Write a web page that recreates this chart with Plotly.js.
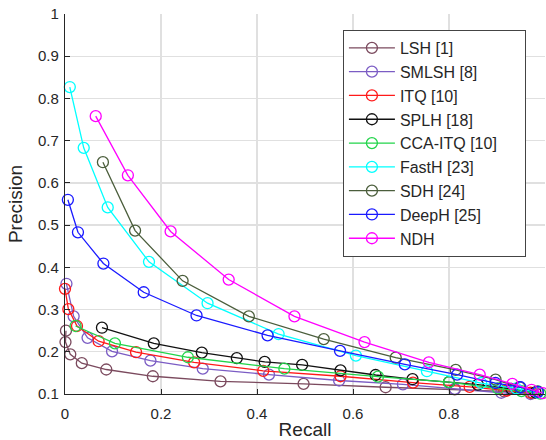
<!DOCTYPE html>
<html>
<head>
<meta charset="utf-8">
<script src="https://cdn.plot.ly/plotly-3.0.1.min.js"></script>
<style>
  html, body { margin: 0; padding: 0; background: #fff; }
  #chart { width: 546px; height: 440px; }
</style>
</head>
<body>
<div id="chart"></div>
<script>
// Precision-recall curves for each hashing method
const methodNames = ['LSH [1]', 'SMLSH [8]', 'ITQ [10]', 'SPLH [18]', 'CCA-ITQ [10]',
                     'FastH [23]', 'SDH [24]', 'DeepH [25]', 'NDH'];

const lshRecall    = [0.002, 0.001, 0.011, 0.035, 0.086, 0.183, 0.324, 0.497, 0.668, 0.812, 0.915, 0.975];
const lshPrecision = [0.250, 0.223, 0.194, 0.173, 0.158, 0.142, 0.130, 0.124, 0.116, 0.111, 0.106, 0.102];

const smlshRecall    = [0.003, 0.018, 0.047, 0.098, 0.178, 0.287, 0.425, 0.571, 0.704, 0.812, 0.909, 0.970];
const smlshPrecision = [0.361, 0.284, 0.233, 0.201, 0.179, 0.160, 0.146, 0.132, 0.123, 0.112, 0.103, 0.100];

const itqRecall    = [0.000, 0.007, 0.025, 0.070, 0.148, 0.269, 0.413, 0.574, 0.725, 0.843, 0.920, 0.970];
const itqPrecision = [0.349, 0.301, 0.261, 0.225, 0.199, 0.175, 0.155, 0.142, 0.127, 0.117, 0.108, 0.103];

const splhRecall    = [0.077, 0.185, 0.285, 0.358, 0.416, 0.494, 0.574, 0.647, 0.724, 0.800, 0.860, 0.930, 0.980];
const splhPrecision = [0.257, 0.220, 0.198, 0.185, 0.176, 0.169, 0.156, 0.145, 0.135, 0.128, 0.122, 0.112, 0.104];

const ccaRecall    = [0.022, 0.104, 0.256, 0.457, 0.652, 0.800, 0.902, 0.951, 0.990];
const ccaPrecision = [0.261, 0.220, 0.187, 0.160, 0.141, 0.128, 0.113, 0.107, 0.101];

const fasthRecall    = [0.010, 0.039, 0.089, 0.175, 0.297, 0.445, 0.606, 0.754, 0.867, 0.940, 0.985];
const fasthPrecision = [0.827, 0.683, 0.542, 0.413, 0.315, 0.242, 0.191, 0.154, 0.126, 0.113, 0.104];

const sdhRecall    = [0.079, 0.146, 0.245, 0.383, 0.539, 0.689, 0.814, 0.897, 0.947, 0.985];
const sdhPrecision = [0.649, 0.487, 0.368, 0.284, 0.230, 0.186, 0.157, 0.134, 0.116, 0.106];

const deephRecall    = [0.006, 0.027, 0.080, 0.164, 0.274, 0.422, 0.573, 0.708, 0.817, 0.897, 0.949, 0.985];
const deephPrecision = [0.560, 0.483, 0.409, 0.341, 0.286, 0.239, 0.202, 0.170, 0.146, 0.126, 0.116, 0.105];

const ndhRecall    = [0.064, 0.131, 0.220, 0.341, 0.478, 0.624, 0.758, 0.864, 0.932, 0.972, 0.995];
const ndhPrecision = [0.758, 0.618, 0.485, 0.371, 0.284, 0.223, 0.175, 0.146, 0.124, 0.110, 0.102];

const xTicks = [0, 0.2, 0.4, 0.6, 0.8, 1];
const yTicks = [0.1, 0.2, 0.3, 0.4, 0.5, 0.6, 0.7, 0.8, 0.9, 1];

const seriesX = [lshRecall, smlshRecall, itqRecall, splhRecall, ccaRecall,
                 fasthRecall, sdhRecall, deephRecall, ndhRecall];
const seriesY = [lshPrecision, smlshPrecision, itqPrecision, splhPrecision, ccaPrecision,
                 fasthPrecision, sdhPrecision, deephPrecision, ndhPrecision];
const colors = ['#7b4a5e', '#7b5cc4', '#ff1a1a', '#111111', '#22d44a',
                '#00ffff', '#4b5e3c', '#1a1aff', '#ff00ff'];

// trailing non-breaking spaces leave some room on the right of the legend box
const legendPad = '\u00a0\u00a0\u00a0\u00a0\u00a0';

const traces = methodNames.map((name, i) => ({
  type: 'scatter',
  mode: 'lines+markers',
  name: name + legendPad,
  x: seriesX[i],
  y: seriesY[i],
  cliponaxis: false,
  line: { color: colors[i], width: 1.3 },
  marker: {
    symbol: 'circle-open',
    size: 11,
    color: colors[i],
    line: { color: colors[i], width: 1.3 }
  }
}));

const textColor = '#262626';
const gridColor = '#e0e0e0';

const layout = {
  width: 546,
  height: 440,
  margin: { l: 65, r: 1, t: 14, b: 46 },
  paper_bgcolor: '#ffffff',
  plot_bgcolor: '#ffffff',
  font: { family: 'Liberation Sans, Arial, Helvetica, sans-serif', color: textColor, size: 15 },
  showlegend: true,
  xaxis: {
    range: [0, 1],
    tickvals: xTicks,
    ticktext: xTicks.map(String),
    showgrid: true, gridcolor: gridColor, gridwidth: 1.3,
    zeroline: false,
    showline: true, linecolor: textColor, linewidth: 1.2,
    ticks: 'inside', ticklen: 5, tickcolor: textColor, tickwidth: 1,
    ticklabelstandoff: 6,
    tickfont: { size: 15, color: textColor },
    title: { text: 'Recall', font: { size: 19, color: textColor }, standoff: 8 }
  },
  yaxis: {
    range: [0.1, 1],
    tickvals: yTicks,
    ticktext: yTicks.map(String),
    showgrid: true, gridcolor: gridColor, gridwidth: 1.3,
    zeroline: false,
    showline: true, linecolor: textColor, linewidth: 1.2,
    ticks: 'inside', ticklen: 5, tickcolor: textColor, tickwidth: 1,
    ticklabelstandoff: 2,
    tickfont: { size: 15, color: textColor },
    title: { text: 'Precision', font: { size: 19, color: textColor }, standoff: 10 }
  },
  legend: {
    x: 0.579, y: 0.958,
    xanchor: 'left', yanchor: 'top',
    bgcolor: '#ffffff',
    bordercolor: '#444444',
    borderwidth: 1,
    itemwidth: 46,
    font: { size: 16, color: textColor },
    tracegroupgap: 0
  }
};

Plotly.newPlot('chart', traces, layout, { displayModeBar: false, staticPlot: true });
</script>
</body>
</html>
